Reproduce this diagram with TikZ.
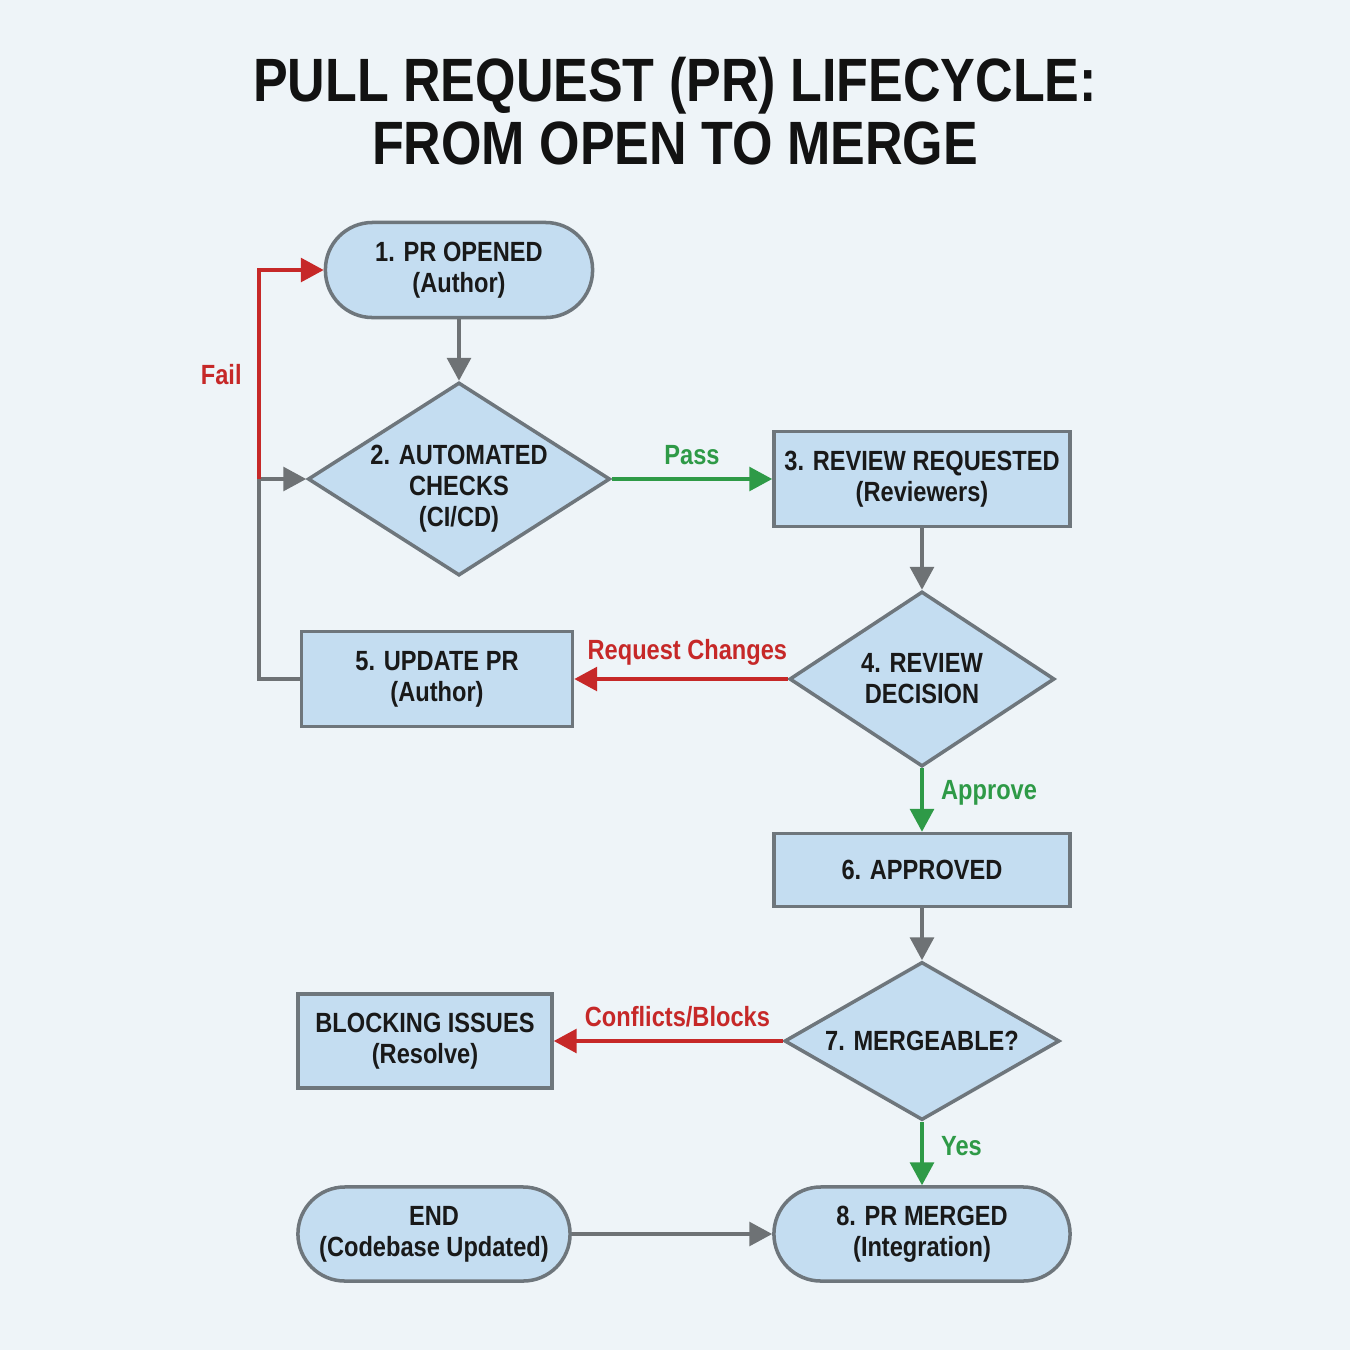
\documentclass[tikz,border=0pt]{standalone}
\usepackage{fontspec}
\setmainfont{Liberation Sans}[FakeStretch=0.85]
\usetikzlibrary{shapes.geometric,arrows.meta}
\definecolor{bg}{HTML}{EEF4F8}
\definecolor{boxfill}{HTML}{C4DDF1}
\definecolor{boxline}{HTML}{6E767C}
\definecolor{conn}{HTML}{6E7275}
\definecolor{redc}{HTML}{C62828}
\definecolor{greenc}{HTML}{2E9A47}
\newcommand\txtfont{\bfseries\fontsize{7.9}{8.8}\selectfont}
\newcommand\titlefont{\bfseries\fontsize{17.4}{17.9}\selectfont}
\begin{document}
\begin{tikzpicture}[x=0.01cm,y=-0.01cm,
  base/.style={draw=boxline, fill=boxfill, line width=1pt, font=\txtfont, align=center, inner sep=0pt, text=black!90},
  rbox/.style={base, rectangle},
  sbox/.style={base, rectangle, rounded corners=0.47cm, minimum height=0.95cm},
  dbox/.style={base, diamond},
  dtext/.style={font=\txtfont, align=center, inner sep=0pt, text=black!90},
  tip/.style={-{Triangle[length=6.5pt,width=6.8pt]}},
  gline/.style={draw=conn, line width=0.9pt},
  rline/.style={draw=redc, line width=0.9pt},
  vline/.style={draw=greenc, line width=0.9pt},
  lbl/.style={font=\txtfont, inner sep=0pt}
]
\fill[bg] (0,0) rectangle (1350,1350);
\useasboundingbox (0,0) rectangle (1350,1350);

\node[font=\titlefont, align=center, text=black!93] (title) at (675,111) {PULL REQUEST (PR) LIFECYCLE:\\FROM OPEN TO MERGE};

\node[sbox, minimum width=2.67cm] (n1) at (459,270) {1. PR OPENED\\(Author)};
\node[dbox, minimum width=3.02cm, minimum height=1.93cm,
      label={[dtext, yshift=-0.1cm]center:{2. AUTOMATED\\CHECKS\\(CI/CD)}}] (n2) at (459,479) {};
\node[rbox, minimum width=2.96cm, minimum height=0.95cm] (n3) at (922,479) {3. REVIEW REQUESTED\\(Reviewers)};
\node[dbox, minimum width=2.65cm, minimum height=1.75cm,
      label={[dtext]center:{4. REVIEW\\DECISION}}] (n4) at (922,679) {};
\node[rbox, minimum width=2.71cm, minimum height=0.95cm] (n5) at (437,679) {5. UPDATE PR\\(Author)};
\node[rbox, minimum width=2.96cm, minimum height=0.73cm] (n6) at (922,870) {6. APPROVED};
\node[dbox, minimum width=2.75cm, minimum height=1.58cm,
      label={[dtext]center:{7. MERGEABLE?}}] (n7) at (922,1041) {};
\node[rbox, minimum width=2.54cm, minimum height=0.94cm] (blk) at (425,1041) {BLOCKING ISSUES\\(Resolve)};
\node[sbox, minimum width=2.72cm, minimum height=0.94cm] (end) at (434,1234) {END\\(Codebase Updated)};
\node[sbox, minimum width=2.96cm, minimum height=0.94cm] (n8) at (922,1234) {8. PR MERGED\\(Integration)};

\coordinate (j) at (259,479);

\draw[gline, tip] (n1.south) -- (n2.north);
\draw[vline, tip] (n2.east) -- node[lbl, above=3.5pt, text=greenc] {Pass} (n3.west);
\draw[gline, tip] (n3.south) -- (n4.north);
\draw[rline, tip] (n4.west) -- node[lbl, above=3.5pt, text=redc, pos=0.47] {Request Changes} (n5.east);
\draw[vline, tip] (n4.south) -- node[lbl, right=5pt, text=greenc, pos=0.38] {Approve} (n6.north);
\draw[gline, tip] (n6.south) -- (n7.north);
\draw[rline, tip] (n7.west) -- node[lbl, above=3.5pt, text=redc, pos=0.46] {Conflicts/Blocks} (blk.east);
\draw[vline, tip] (n7.south) -- node[lbl, right=5pt, text=greenc, pos=0.39] {Yes} (n8.north);
\draw[gline, tip] (end.east) -- (n8.west);
\draw[gline, line join=miter] (n5.west) -| (j);
\draw[gline, tip] (j) -- (n2.west);
\draw[rline, tip, line join=miter] (j) |- node[lbl, left=4.5pt, text=redc, pos=0.25] {Fail} (n1.west);
\end{tikzpicture}
\end{document}
